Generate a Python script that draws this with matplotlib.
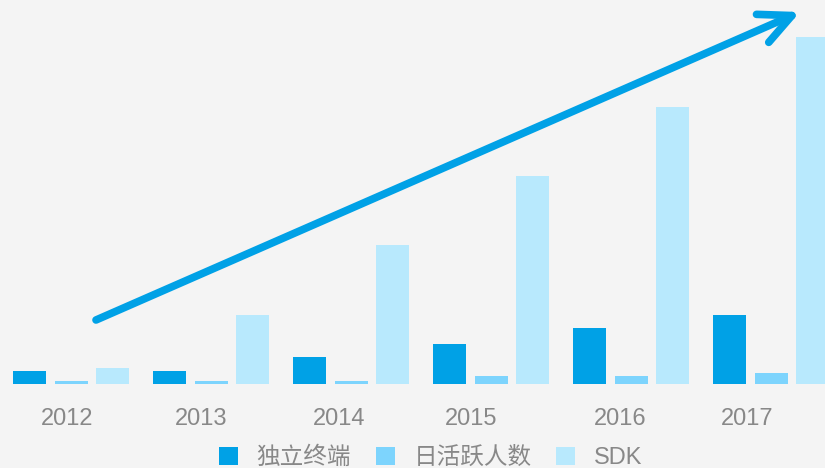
import matplotlib
matplotlib.use("Agg")
import matplotlib.pyplot as plt
from matplotlib.patches import Patch
import numpy as np

years = ["2012", "2013", "2014", "2015", "2016", "2017"]
series_names = ["独立终端", "日活跃人数", "SDK"]
terminals = [13, 13, 27, 40, 56, 69]
daily_active = [3, 3, 3, 8, 8, 11]
sdk = [16, 69, 139, 208, 277, 347]

colors = ["#00a1e6", "#7dd4fd", "#b8e9fd"]
bg = "#f4f4f4"

plt.rcParams["font.family"] = ["Liberation Sans", "Noto Sans CJK SC", "DejaVu Sans"]

fig = plt.figure(figsize=(8.25, 4.68), dpi=100, facecolor=bg)
ax = fig.add_axes([0, 84 / 468, 1, 384 / 468], facecolor=bg)

group_start = 13 + 140 * np.arange(len(years))
width = 33
step = 41.5
for i, (values, color) in enumerate(zip([terminals, daily_active, sdk], colors)):
    ax.bar(group_start + i * step, values, width=width, align="edge",
           color=color, linewidth=0)

# year labels sit a little left of the group centres in the original
label_shift = [-4, -10, -12, -20, -11, -24]
ax.set_xlim(0, 825)
ax.set_ylim(0, 384)
ax.set_xticks(group_start + step + width / 2 + np.array(label_shift))
ax.set_xticklabels(years)
ax.tick_params(axis="x", length=0, pad=17, labelsize=17, labelcolor="#888888")
ax.set_yticks([])
for spine in ax.spines.values():
    spine.set_visible(False)

# trend arrow (decoration)
ax.annotate("", xy=(800 / 825, 1 - 12 / 384), xytext=(96 / 825, 1 - 320 / 384),
            xycoords="axes fraction", textcoords="axes fraction",
            arrowprops=dict(arrowstyle="->,head_length=2.3,head_width=1.1",
                            color=colors[0], lw=5.5, capstyle="round",
                            joinstyle="round", shrinkA=0, shrinkB=0))

handles = [Patch(facecolor=c, edgecolor="none") for c in colors]
fig.legend(handles, series_names, loc="lower center", bbox_to_anchor=(0.522, -0.047),
           ncol=3, frameon=False, fontsize=17, labelcolor="#888888",
           handlelength=0.8, handleheight=0.8, handletextpad=0.8,
           columnspacing=1.05)

fig.savefig("out.png", dpi=100, facecolor=bg)
